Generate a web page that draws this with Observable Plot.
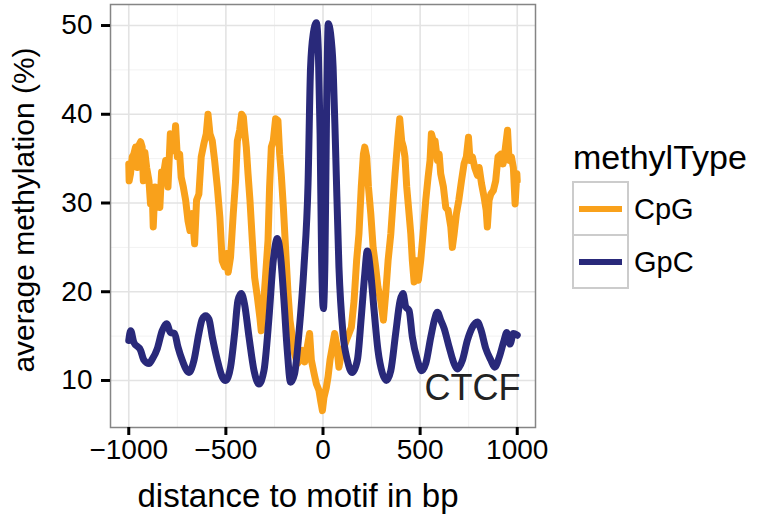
<!DOCTYPE html>
<html><head><meta charset="utf-8">
<script src="https://cdn.jsdelivr.net/npm/d3@7"></script>
<script src="https://cdn.jsdelivr.net/npm/@observablehq/plot@0.6"></script>
<style>body{margin:0;background:#fff;} #chart svg{display:block;}</style>
</head><body><div id="chart"></div>
<script>
// CpG (orange) series: distance (bp) and average methylation (%)
const cpgX = [-1000,-998,-991,-982,-974,-965,-956,-948,-939,-931,-925,-917,-908,-896,-888,-879,-874,-865,-857,-848,-840,-831,-822,-810,-798,-786,-776,-767,-759,-750,-738,-730,-719,-707,-695,-685,-673,-661,-651,-639,-627,-613,-601,-592,-582,-570,-558,-544,-531,-519,-507,-496,-488,-476,-462,-450,-441,-429,-419,-410,-404,-395,-386,-376,-364,-352,-338,-325,-318,-307,-295,-283,-275,-266,-256,-244,-232,-223,-215,-204,-192,-180,-170,-158,-146,-132,-118,-106,-94,-81,-69,-60,-46,-34,-21,-12,-3,5,17,26,36,48,60,70,82,94,108,120,134,146,160,173,185,197,208,215,225,234,246,258,271,283,297,311,323,335,349,361,371,379,386,395,405,414,422,431,443,452,460,469,481,491,503,515,529,541,551,558,568,577,589,598,606,620,632,644,658,666,675,687,699,713,726,738,749,757,769,781,795,804,816,829,840,846,855,864,877,889,901,915,927,937,950,958,970,980,989,998,1000];
const cpgY = [34.4,32.5,33.3,35.2,35.5,36.3,34.0,36.5,36.9,36.3,32.5,35.7,34.0,32.5,29.9,31.0,27.3,31.8,29.5,31.0,29.5,33.5,33.1,34.8,31.8,37.8,37.0,35.9,38.7,35.2,35.5,32.9,31.8,30.3,28.0,26.9,28.8,25.4,30.3,31.0,35.2,36.7,37.8,40.0,37.8,37.0,34.8,31.8,28.4,23.5,22.8,24.3,22.2,23.9,28.8,32.5,37.0,38.2,40.0,39.7,38.2,36.3,33.3,30.3,25.8,21.6,19.4,17.1,15.6,18.3,22.0,25.8,31.8,36.3,37.0,39.5,39.3,35.5,33.3,29.5,24.6,19.8,16.8,14.9,13.0,11.9,12.3,13.4,12.1,13.8,15.3,12.3,10.8,9.6,8.9,7.7,6.6,8.1,9.2,10.4,12.3,13.8,15.3,14.1,11.5,13.0,13.8,14.5,15.3,16.0,19.0,23.5,26.5,31.8,35.5,36.3,35.2,31.8,28.8,25.0,22.8,20.5,19.0,16.8,19.8,23.5,26.5,30.3,33.3,35.5,37.4,39.5,37.0,36.3,35.2,31.8,28.8,26.5,23.5,21.1,23.5,21.3,23.5,26.5,30.3,32.9,34.8,37.8,37.0,37.0,34.8,35.5,33.3,31.8,29.5,29.2,27.3,25.0,26.5,28.8,30.3,32.5,34.4,35.2,37.4,34.8,35.2,34.0,33.1,34.0,32.2,30.7,29.2,27.3,30.3,31.0,31.4,32.5,35.2,35.5,34.4,35.9,38.2,34.8,35.2,34.0,29.9,33.3,32.5];
// GpC (dark blue) series
const gpcX = [-1000,-990,-974,-939,-922,-896,-879,-853,-828,-805,-785,-764,-747,-725,-690,-664,-639,-622,-604,-587,-570,-544,-519,-501,-476,-455,-438,-421,-404,-381,-355,-330,-304,-278,-256,-235,-218,-201,-184,-167,-146,-124,-98,-77,-64,-50,-34,-24,-15,-7,2,10,19,27,39,52,65,82,103,125,151,177,197,215,228,246,263,283,306,326,349,374,397,412,426,443,460,486,508,529,555,577,589,606,623,649,675,692,718,743,769,795,812,838,864,884,907,932,946,963,980,1000];
const gpcY = [14.5,15.6,14.3,13.4,12.3,11.9,12.4,13.6,15.6,16.4,15.4,15.3,13.8,12.3,10.9,12.3,15.3,16.9,17.3,16.9,14.9,12.3,10.4,10.0,11.5,15.3,19.0,19.8,18.6,14.9,11.1,9.6,11.1,17.1,23.5,26.0,23.9,19.0,13.4,9.8,10.8,15.3,22.8,32.2,45.3,49.1,50.3,47.2,37.8,23.5,18.1,23.5,41.5,50.2,49.1,45.3,35.9,22.8,15.3,12.3,10.9,12.3,17.1,22.0,24.6,22.0,17.9,13.4,10.8,10.0,11.1,15.3,19.0,19.8,18.3,17.9,14.9,12.3,11.1,11.9,14.9,17.1,17.7,16.8,15.9,13.8,11.9,11.3,12.3,14.5,16.0,16.6,15.8,13.6,12.3,11.5,12.6,14.5,15.4,14.1,15.3,15.1];

const xTicks = [-1000, -500, 0, 500, 1000];
const xMinor = [-750, -250, 250, 750];
const yTicks = [10, 20, 30, 40, 50];
const yMinor = [15, 25, 35, 45];
const seriesNames = ["CpG", "GpC"];
const seriesColors = ["#F9A11B", "#29297A"];
const legendTitle = "methylType";
const xTitle = "distance to motif in bp";
const yTitle = "average methylation (%)";
const panelLabel = ["CTCF"];

const cpg = cpgX.map((x, i) => ({type: "CpG", x, y: cpgY[i]}));
const gpc = gpcX.map((x, i) => ({type: "GpC", x, y: gpcY[i]}));

const font = '"Liberation Sans", Arial, Helvetica, sans-serif';
const fmt = d => String(d).replace("-", "\u2212");

const plot = Plot.plot({
  width: 760, height: 519,
  marginLeft: 110, marginRight: 225, marginTop: 4, marginBottom: 92,
  style: {fontFamily: font, background: "#fff", color: "#000"},
  x: {domain: [-1094, 1094]},
  y: {domain: [4.7, 52.37]},
  color: {domain: seriesNames, range: seriesColors},
  marks: [
    Plot.ruleX(xMinor, {stroke: "#f2f2f2", strokeWidth: 1}),
    Plot.ruleY(yMinor, {stroke: "#f2f2f2", strokeWidth: 1}),
    Plot.ruleX(xTicks, {stroke: "#e3e3e3", strokeWidth: 1.6}),
    Plot.ruleY(yTicks, {stroke: "#e3e3e3", strokeWidth: 1.6}),
    Plot.line(cpg, {x: "x", y: "y", stroke: "type", strokeWidth: 7, strokeLinejoin: "round", strokeLinecap: "round"}),
    Plot.line(gpc, {x: "x", y: "y", stroke: "type", strokeWidth: 7, curve: "monotone-x", strokeLinejoin: "round", strokeLinecap: "round"}),
    Plot.frame({stroke: "#858585", strokeWidth: 1.5}),
    Plot.axisX(xTicks, {tickSize: 8, tickPadding: 4, strokeWidth: 3, fontSize: 28, tickFormat: fmt, label: null}),
    Plot.axisY(yTicks, {tickSize: 9, tickPadding: 9, strokeWidth: 3, fontSize: 28, label: null}),
    Plot.text(panelLabel, {frameAnchor: "bottom-right", textAnchor: "end", dx: -15, dy: -28, fontSize: 36, fill: "#222"})
  ]
});

document.getElementById("chart").appendChild(plot);

const svg = d3.select(plot);
svg.append("text").attr("x", 298).attr("y", 507).attr("text-anchor", "middle")
  .attr("font-size", 33).attr("font-family", font).attr("fill", "#000").text(xTitle);
svg.append("text").attr("transform", "translate(34,210) rotate(-90)").attr("text-anchor", "middle")
  .attr("font-size", 30).attr("font-family", font).attr("fill", "#000").text(yTitle);

const lg = svg.append("g").attr("font-family", font).attr("text-anchor", "start");
lg.append("text").attr("x", 573).attr("y", 169).attr("text-anchor", "start").attr("font-size", 34).attr("fill", "#000").text(legendTitle);
seriesNames.forEach((name, i) => {
  const top = 182 + i * 53;
  lg.append("rect").attr("x", 573).attr("y", top).attr("width", 55).attr("height", 53)
    .attr("fill", "#fff").attr("stroke", "#cccccc").attr("stroke-width", 2);
  lg.append("line").attr("x1", 579).attr("x2", 622).attr("y1", top + 27).attr("y2", top + 27)
    .attr("stroke", seriesColors[i]).attr("stroke-width", 6);
  lg.append("text").attr("x", 634).attr("y", top + 37).attr("text-anchor", "start").attr("font-size", 29).attr("fill", "#000").text(name);
});
</script>
</body></html>
